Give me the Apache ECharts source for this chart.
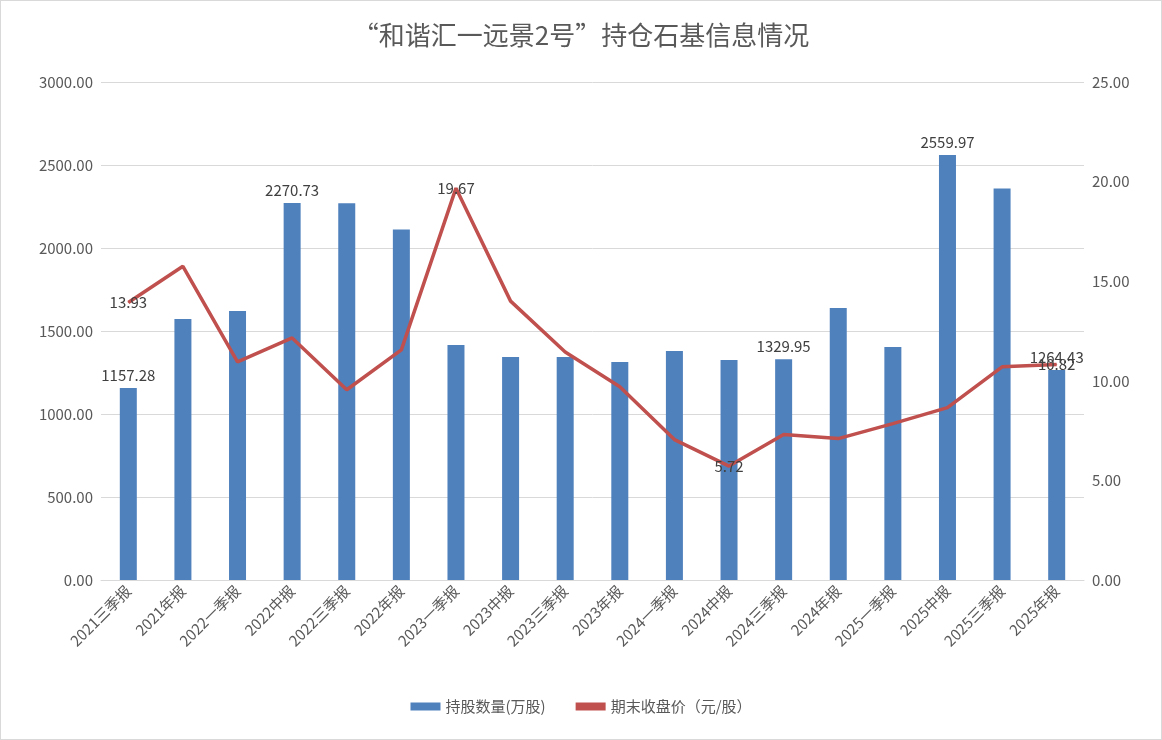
<!DOCTYPE html>
<html lang="zh" style="height: 100%;margin: 0;">
<head>
    <meta charset="UTF-8">
    <title>chart</title>
    <script src="https://cdn.jsdelivr.net/npm/echarts@6/dist/echarts.min.js"></script>
</head>
<body style="height: 100%;margin: 0;background-color: #ffffff;">
<div id="chart" style="width: 1160px;height: 738px;margin: 0;border: 1px solid #d9d9d9;"></div>
<script>
    var categories = ["2021三季报", "2021年报", "2022一季报", "2022中报", "2022三季报", "2022年报", "2023一季报", "2023中报", "2023三季报", "2023年报", "2024一季报", "2024中报", "2024三季报", "2024年报", "2025一季报", "2025中报", "2025三季报", "2025年报"];
    var holdings = [1157.28, 1572, 1620, 2270.73, 2270, 2112, 1416, 1344, 1344, 1314, 1380, 1326, 1329.95, 1638, 1404, 2559.97, 2358, 1264.43];
    var prices = [13.93, 15.75, 10.95, 12.15, 9.55, 11.55, 19.67, 14.0, 11.45, 9.7, 7.05, 5.72, 7.3, 7.1, 7.85, 8.65, 10.7, 10.82];
    var barLabelIdx = [0, 3, 12, 15, 17];
    var lineLabelIdx = [0, 6, 11, 17];

    var myChart = echarts.init(document.getElementById("chart"), null, {renderer: 'canvas'});
    var font = "'Noto Sans CJK SC', 'Liberation Sans', sans-serif";

    var barData = holdings.map(function (v, i) {
        return {value: v, label: {show: barLabelIdx.indexOf(i) >= 0}};
    });
    var lineOffsets = {0: [30, 2], 6: [42, -8], 11: [40, 16], 17: [28, 0]};
    var lineData = prices.map(function (v, i) {
        var lab = {show: lineLabelIdx.indexOf(i) >= 0, position: 'inside'};
        if (lineOffsets[i]) { lab.offset = lineOffsets[i]; }
        return {value: v, label: lab};
    });

    var option = {
        backgroundColor: '#ffffff',
        textStyle: {fontFamily: font},
        title: {
            text: '“和谐汇一远景2号”持仓石基信息情况',
            left: 'center', top: 16,
            textStyle: {fontSize: 26, fontWeight: 'normal', color: '#595959', fontFamily: font}
        },
        legend: {
            bottom: 20, itemGap: 30,
            textStyle: {fontSize: 15, color: '#595959'},
            data: [{name: '持股数量(万股)', icon: 'rect'}, {name: '期末收盘价（元/股）', icon: 'rect'}],
            itemWidth: 30, itemHeight: 8
        },
        grid: {left: 100, right: 77, top: 81, bottom: 159},
        xAxis: [{
            type: 'category',
            data: categories,
            axisTick: {show: false},
            axisLine: {lineStyle: {color: '#d9d9d9'}},
            axisLabel: {rotate: 45, fontSize: 15, color: '#595959', interval: 0}
        }],
        yAxis: [{
            type: 'value', min: 0, max: 3000, interval: 500,
            axisLabel: {fontSize: 15, color: '#595959', formatter: function (v) { return v.toFixed(2); }},
            splitLine: {lineStyle: {color: '#d9d9d9'}}
        }, {
            type: 'value', min: 0, max: 25, interval: 5,
            axisLabel: {fontSize: 15, color: '#595959', formatter: function (v) { return v.toFixed(2); }},
            splitLine: {show: false}
        }],
        series: [{
            name: '持股数量(万股)',
            type: 'bar',
            barWidth: 17,
            itemStyle: {color: '#4f81bd'},
            label: {position: 'top', fontSize: 15, color: '#404040', formatter: function (p) { return p.value.toFixed(2); }},
            data: barData
        }, {
            name: '期末收盘价（元/股）',
            type: 'line',
            yAxisIndex: 1,
            symbol: 'circle',
            symbolSize: 1,
            showSymbol: true,
            lineStyle: {color: '#c0504d', width: 3.5},
            itemStyle: {color: '#c0504d'},
            label: {fontSize: 15, color: '#404040', formatter: function (p) { return p.value.toFixed(2); }},
            labelLayout: {hideOverlap: false},
            data: lineData,
            z: 3
        }]
    };
    myChart.setOption(option, true);
</script>
</body>
</html>
